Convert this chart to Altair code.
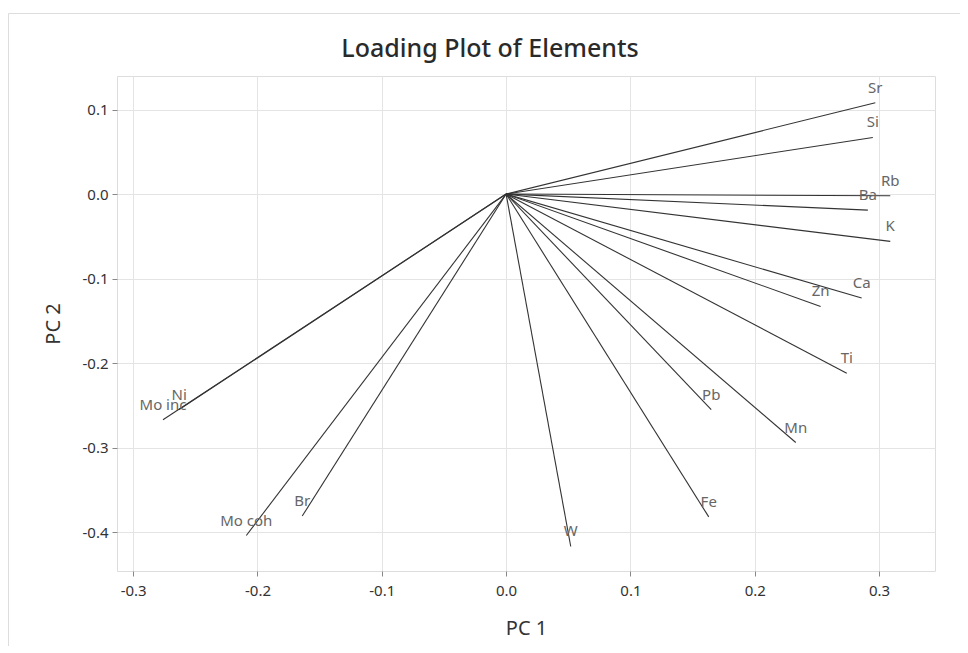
import altair as alt
import pandas as pd

elements = ["Sr", "Si", "Rb", "Ba", "K", "Ca", "Zn", "Ti", "Pb", "Mn", "Fe", "W",
            "Br", "Mo coh", "Mo inc", "Ni"]
pc1 = [0.297, 0.295, 0.309, 0.291, 0.309, 0.286, 0.253, 0.274, 0.165, 0.233, 0.163, 0.052,
       -0.164, -0.209, -0.276, -0.263]
pc2 = [0.108, 0.067, -0.002, -0.019, -0.056, -0.123, -0.133, -0.212, -0.255, -0.294, -0.382, -0.417,
       -0.381, -0.404, -0.267, -0.255]
x_ticks = [-0.3, -0.2, -0.1, 0.0, 0.1, 0.2, 0.3]
y_ticks = [0.1, 0.0, -0.1, -0.2, -0.3, -0.4]

df = pd.DataFrame({"element": elements, "pc1": pc1, "pc2": pc2})
df["x0"] = 0.0
df["y0"] = 0.0

W, H = 818, 495
FONT = "Noto Sans"
label_expr = "replace(format(datum.value, '.1f'), '\u2212', '-')"

xscale = alt.Scale(domain=[-0.313, 0.345], nice=False, zero=False)
yscale = alt.Scale(domain=[-0.446, 0.1397], nice=False, zero=False)

xaxis = alt.Axis(title="PC 1", values=x_ticks, labelExpr=label_expr, grid=True,
                 gridColor="#e4e4e4", domain=False, tickColor="#888888", tickSize=5,
                 labelFontSize=15, labelColor="#333333", labelPadding=7,
                 titleFontSize=20, titleColor="#333333", titleFontWeight="normal", titlePadding=20,
                 labelFont=FONT, titleFont=FONT)
yaxis = alt.Axis(title="PC 2", values=y_ticks, labelExpr=label_expr, grid=True,
                 gridColor="#e4e4e4", domain=False, tickColor="#888888", tickSize=5,
                 labelFontSize=15, labelColor="#333333", labelPadding=4,
                 titleFontSize=20, titleColor="#333333", titleFontWeight="normal", titlePadding=18,
                 labelFont=FONT, titleFont=FONT)

lines = alt.Chart(df).mark_rule(color="#333333", strokeWidth=1.1).encode(
    x=alt.X("x0:Q", scale=xscale, axis=xaxis),
    y=alt.Y("y0:Q", scale=yscale, axis=yaxis),
    x2="pc1:Q",
    y2="pc2:Q",
)

labels = alt.Chart(df).mark_text(font=FONT, fontSize=15, color="#666666", dy=-15, dx=0,
                                 align="center", baseline="middle").encode(
    x=alt.X("pc1:Q", scale=xscale),
    y=alt.Y("pc2:Q", scale=yscale),
    text="element:N",
)

frame_df = pd.DataFrame({"k": [0]})
frame_top = alt.Chart(frame_df).mark_rule(color="#dddddd", strokeWidth=1, clip=False).encode(
    x=alt.value(-108.5), x2=alt.value(W + 30), y=alt.value(-62.5), y2=alt.value(-62.5))
frame_left = alt.Chart(frame_df).mark_rule(color="#dddddd", strokeWidth=1, clip=False).encode(
    x=alt.value(-108.5), x2=alt.value(-108.5), y=alt.value(-62.5), y2=alt.value(H + 90))

chart = alt.layer(frame_top, frame_left, lines, labels).properties(
    width=W, height=H,
    autosize=alt.AutoSizeParams(type="none"),
    padding={"left": 109, "top": 68, "right": 25, "bottom": 75},
    title=alt.TitleParams("Loading Plot of Elements", font=FONT, fontSize=25, fontWeight=500,
                          color="#2a2a2a", anchor="middle", offset=-49, dx=-36),
).configure_view(stroke="#8c8c8c", strokeWidth=1).configure(background="white")

chart.save("out.html", embed_options={"renderer": "svg", "actions": False})
